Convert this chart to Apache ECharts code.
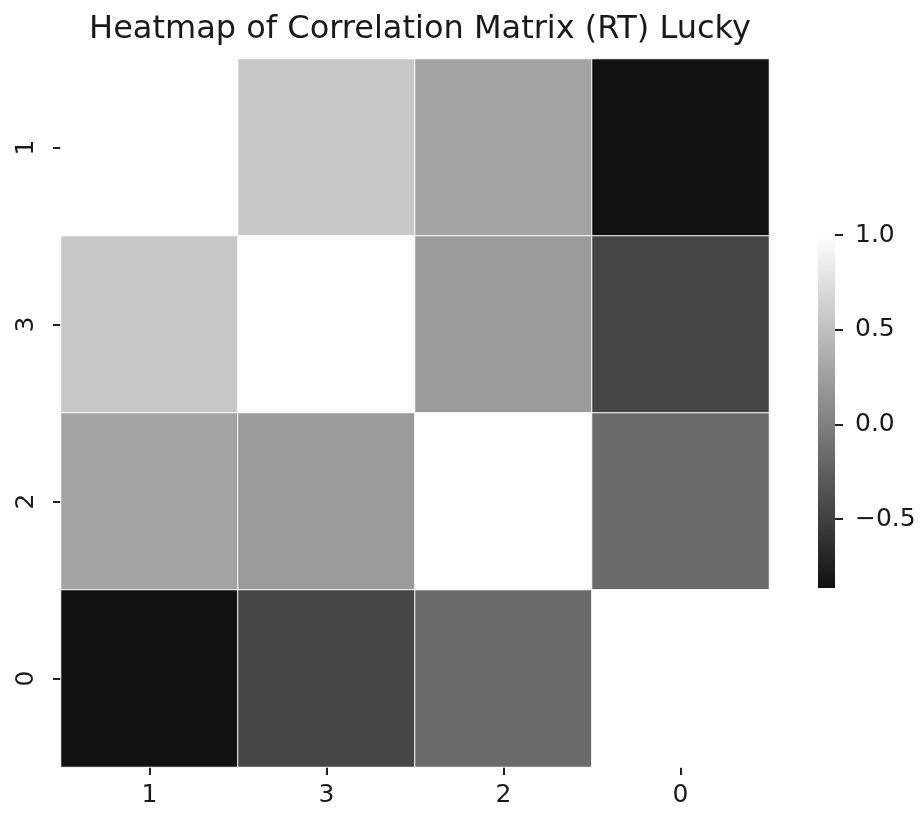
<!DOCTYPE html>
<html>
<head>
<meta charset="utf-8">
<script src="https://cdn.jsdelivr.net/npm/echarts@6/dist/echarts.min.js"></script>
<style>
  html, body { margin: 0; padding: 0; background: #fff; }
  #chart { width: 922px; height: 815px; }
</style>
</head>
<body>
<div id="chart"></div>
<script>
// Variable labels, in the order they appear along both axes
const xLabels = ['1', '3', '2', '0'];
const yLabels = ['1', '3', '2', '0'];

// Correlation values, one row per y label (top to bottom)
const row1 = [1.0, 0.569, 0.28, -0.863];
const row3 = [0.569, 1.0, 0.217, -0.456];
const row2 = [0.28, 0.217, 1.0, -0.159];
const row0 = [-0.863, -0.456, -0.159, 1.0];
const rows = [row1, row3, row2, row0];

// Colour scale limits and colorbar tick values
const vMin = -0.863;
const vMax = 1.0;
const cbTicks = [-0.5, 0.0, 0.5, 1.0];

const cmapLow = '#111111';
const cmapHigh = '#ffffff';

const cells = [];
rows.forEach((r, yi) => r.forEach((v, xi) => cells.push([xi, yi, v])));

const FONT = 'DejaVu Sans';
const TXT = '#1a1a1a';
const fmtTick = v => (v < 0 ? '\u2212' : '') + Math.abs(v).toFixed(1);

const chart = echarts.init(document.getElementById('chart'), null, { renderer: 'canvas' });
chart.setOption({
  backgroundColor: '#fff',
  animation: false,
  title: {
    text: 'Heatmap of Correlation Matrix (RT) Lucky',
    left: 415, top: 9, textAlign: 'center',
    textStyle: { fontFamily: FONT, fontSize: 32, fontWeight: 'normal', color: TXT }
  },
  grid: [
    { left: 61, top: 59, width: 708, height: 708 },
    { left: 818, top: 235, width: 17, height: 353 }
  ],
  xAxis: [
    {
      gridIndex: 0, type: 'category', data: xLabels,
      axisLine: { show: false },
      axisTick: { show: true, length: 8, alignWithLabel: true, lineStyle: { color: '#222', width: 2 } },
      axisLabel: { fontFamily: FONT, fontSize: 25, color: TXT, margin: 16 },
      splitLine: { show: false }
    },
    {
      gridIndex: 1, type: 'category', data: [''],
      show: false
    }
  ],
  yAxis: [
    {
      gridIndex: 0, type: 'category', data: yLabels, inverse: true,
      axisLine: { show: false },
      axisTick: { show: true, length: 8, alignWithLabel: true, lineStyle: { color: '#222', width: 2 } },
      axisLabel: { fontFamily: FONT, fontSize: 25, color: TXT, rotate: 90, margin: 22 },
      splitLine: { show: false }
    },
    {
      gridIndex: 1, type: 'value', position: 'right', min: vMin, max: vMax,
      axisLine: { show: false },
      splitLine: { show: false },
      axisTick: { show: true, length: 8, customValues: cbTicks, lineStyle: { color: '#222', width: 2 } },
      axisLabel: {
        fontFamily: FONT, fontSize: 25, color: TXT, margin: 20,
        customValues: cbTicks, formatter: fmtTick
      }
    }
  ],
  visualMap: {
    show: false, type: 'continuous', seriesIndex: 0,
    min: vMin, max: vMax, dimension: 2,
    inRange: { color: [cmapLow, cmapHigh] }
  },
  series: [
    {
      type: 'heatmap', xAxisIndex: 0, yAxisIndex: 0,
      data: cells,
      itemStyle: { borderColor: '#ffffff', borderWidth: 1 },
      emphasis: { disabled: true }
    },
    {
      // colorbar drawn as a gradient bar spanning the colour scale
      type: 'custom', xAxisIndex: 1, yAxisIndex: 1,
      data: [[0, vMin, vMax]],
      encode: { x: 0, y: [1, 2] },
      renderItem: (params, api) => {
        const top = api.coord([api.value(0), api.value(2)]);
        const bot = api.coord([api.value(0), api.value(1)]);
        const w = api.size([1, 0])[0];
        return {
          type: 'rect',
          shape: { x: top[0] - w / 2, y: top[1], width: w, height: bot[1] - top[1] },
          style: {
            fill: {
              type: 'linear', x: 0, y: 0, x2: 0, y2: 1,
              colorStops: [{ offset: 0, color: cmapHigh }, { offset: 1, color: cmapLow }]
            }
          }
        };
      }
    }
  ]
});
</script>
</body>
</html>
